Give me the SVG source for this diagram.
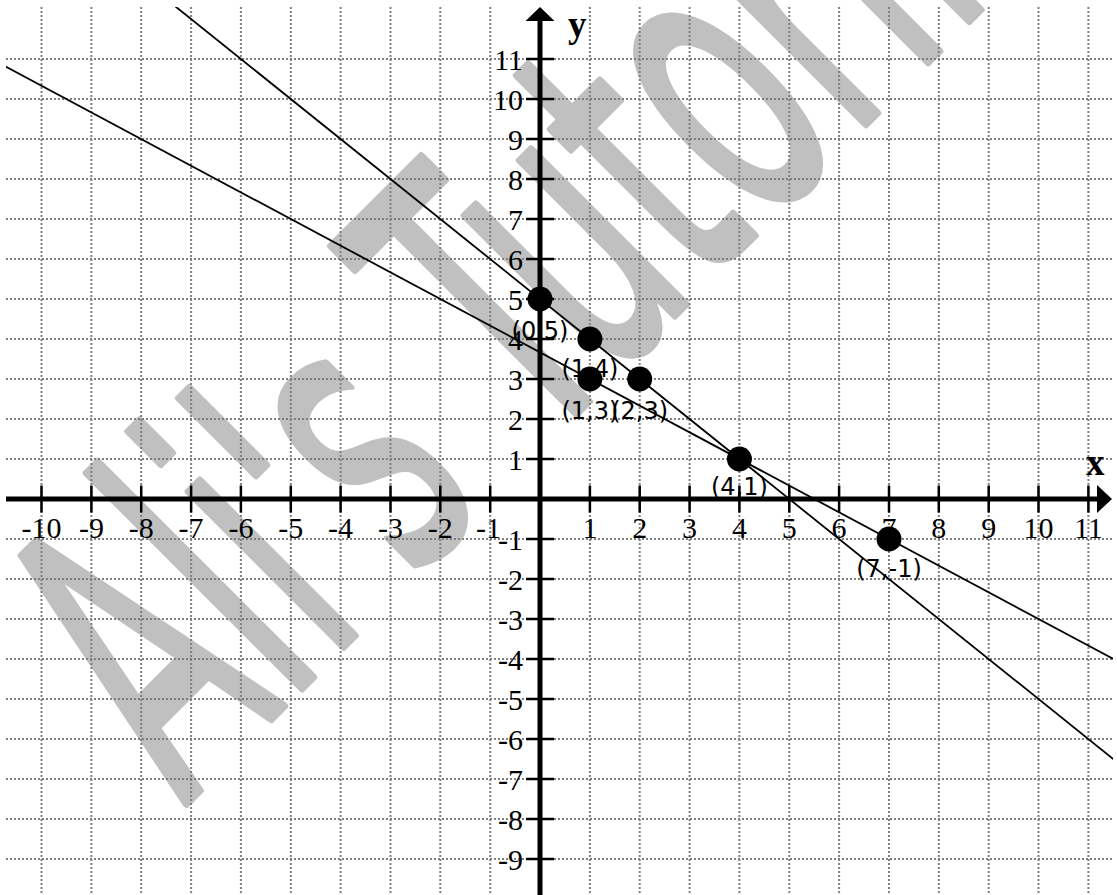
<svg xmlns="http://www.w3.org/2000/svg" width="1117" height="895" viewBox="0 0 1117 895">
<style>
.grid{fill:none;stroke:#7f7f7f;stroke-width:2;stroke-dasharray:2 2}
.axis{fill:none;stroke:#000;stroke-width:5}
.tick{fill:none;stroke:#000;stroke-width:2.5}
.num{font-family:"Liberation Serif","Times New Roman",serif;font-size:30px;fill:#000}
.xn{text-anchor:middle}
.yn{text-anchor:end}
.ax{font-family:"Liberation Serif","Times New Roman",serif;font-size:37px;font-weight:bold;fill:#000}
.plot{fill:none;stroke:#000;stroke-width:1.8}
.dot{fill:#000}
.lbl{font-family:"DejaVu Sans",Verdana,sans-serif;font-size:24px;fill:#000;text-anchor:middle}
.wm{font-family:"DejaVu Sans",sans-serif;font-size:400px;fill:#c0c0c0;stroke:#c0c0c0;stroke-width:8;stroke-linejoin:round}
</style>
<defs>
<clipPath id="plotArea"><rect x="6" y="7" width="1107" height="888"/></clipPath>
</defs>
<rect x="0" y="0" width="1117" height="895" fill="#fff"/>
<g id="watermark">
<text class="wm" transform="translate(184,806) rotate(-45) scale(0.53,1)">Ali's Tutoring</text>
</g>
<g id="grid">
<path class="grid" d="M41.5 7V895M91.4 7V895M141.2 7V895M191.1 7V895M240.9 7V895M290.8 7V895M340.6 7V895M390.5 7V895M440.3 7V895M490.2 7V895M589.9 7V895M639.7 7V895M689.6 7V895M739.4 7V895M789.3 7V895M839.1 7V895M889 7V895M938.8 7V895M988.7 7V895M1038.5 7V895M1088.4 7V895"/>
<path class="grid" d="M6 59H1113M6 99H1113M6 139H1113M6 179H1113M6 219H1113M6 259H1113M6 299H1113M6 339H1113M6 379H1113M6 419H1113M6 459H1113M6 539H1113M6 579H1113M6 619H1113M6 659H1113M6 699H1113M6 739H1113M6 779H1113M6 819H1113M6 859H1113"/>
</g>
<g id="connectors" clip-path="url(#plotArea)">
<line id="line-a" class="plot" x1="141.2" y1="-21" x2="1138.2" y2="779"/>
<line id="line-b" class="plot" x1="-8.35" y1="59" x2="1138.2" y2="672.3"/>
</g>
<g id="axes">
<line class="axis" x1="6" y1="499" x2="1098" y2="499"/>
<polygon points="1112,499 1097,485 1097,513" fill="#000"/>
<line class="axis" x1="540" y1="20" x2="540" y2="895"/>
<polygon points="540,7 525.5,21 554.5,21" fill="#000"/>
<path class="tick" d="M41.5 485.5V512.5M91.4 485.5V512.5M141.2 485.5V512.5M191.1 485.5V512.5M240.9 485.5V512.5M290.8 485.5V512.5M340.6 485.5V512.5M390.5 485.5V512.5M440.3 485.5V512.5M490.2 485.5V512.5M589.9 485.5V512.5M639.7 485.5V512.5M689.6 485.5V512.5M739.4 485.5V512.5M789.3 485.5V512.5M839.1 485.5V512.5M889 485.5V512.5M938.8 485.5V512.5M988.7 485.5V512.5M1038.5 485.5V512.5M1088.4 485.5V512.5"/>
<path class="tick" d="M526 59H554M526 99H554M526 139H554M526 179H554M526 219H554M526 259H554M526 299H554M526 339H554M526 379H554M526 419H554M526 459H554M526 539H554M526 579H554M526 619H554M526 659H554M526 699H554M526 739H554M526 779H554M526 819H554M526 859H554"/>
<text class="ax" x="568" y="37">y</text>
<text class="ax" x="1086" y="475">x</text>
<g class="num xn">
<text x="41.5" y="537.5">-10</text>
<text x="91.4" y="537.5">-9</text>
<text x="141.2" y="537.5">-8</text>
<text x="191.1" y="537.5">-7</text>
<text x="240.9" y="537.5">-6</text>
<text x="290.8" y="537.5">-5</text>
<text x="340.6" y="537.5">-4</text>
<text x="390.5" y="537.5">-3</text>
<text x="440.3" y="537.5">-2</text>
<text x="488.5" y="537.5">-1</text>
<text x="589.9" y="537.5">1</text>
<text x="639.7" y="537.5">2</text>
<text x="689.6" y="537.5">3</text>
<text x="739.4" y="537.5">4</text>
<text x="789.3" y="537.5">5</text>
<text x="839.1" y="537.5">6</text>
<text x="889" y="537.5">7</text>
<text x="938.8" y="537.5">8</text>
<text x="988.7" y="537.5">9</text>
<text x="1038.5" y="537.5">10</text>
<text x="1088.4" y="537.5">11</text>
</g>
<g class="num yn">
<text x="523" y="70">11</text>
<text x="523" y="110">10</text>
<text x="523" y="150">9</text>
<text x="523" y="190">8</text>
<text x="523" y="230">7</text>
<text x="523" y="270">6</text>
<text x="523" y="310">5</text>
<text x="523" y="350">4</text>
<text x="523" y="390">3</text>
<text x="523" y="430">2</text>
<text x="523" y="470">1</text>
<text x="523" y="550">-1</text>
<text x="523" y="590">-2</text>
<text x="523" y="630">-3</text>
<text x="523" y="670">-4</text>
<text x="523" y="710">-5</text>
<text x="523" y="750">-6</text>
<text x="523" y="790">-7</text>
<text x="523" y="830">-8</text>
<text x="523" y="870">-9</text>
</g>
</g>
<g id="pt-0-5"><circle class="dot" cx="540" cy="299" r="12.5"/><text class="lbl" x="540" y="339">(0,5)</text></g>
<g id="pt-1-4"><circle class="dot" cx="589.9" cy="339" r="12.5"/><text class="lbl" x="589.9" y="377">(1,4)</text></g>
<g id="pt-1-3"><circle class="dot" cx="589.9" cy="379" r="12.5"/><text class="lbl" x="589.9" y="418.5">(1,3)</text></g>
<g id="pt-2-3"><circle class="dot" cx="639.7" cy="379" r="12.5"/><text class="lbl" x="639.7" y="418.5">(2,3)</text></g>
<g id="pt-4-1"><circle class="dot" cx="739.4" cy="459" r="12.5"/><text class="lbl" x="739.4" y="495">(4,1)</text></g>
<g id="pt-7-m1"><circle class="dot" cx="889" cy="539" r="12.5"/><text class="lbl" x="889" y="577">(7,-1)</text></g>
</svg>
